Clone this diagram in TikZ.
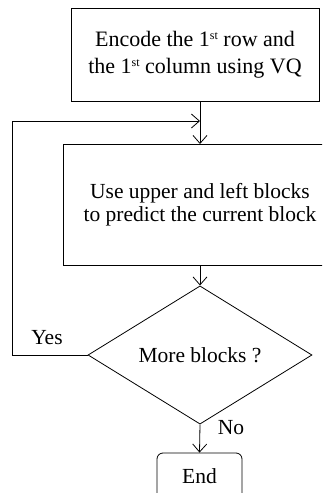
\documentclass[tikz,border=0pt]{standalone}
\usepackage{fontspec}
\setmainfont{Liberation Serif}
\usetikzlibrary{arrows.meta,shapes.geometric}
\newcommand{\supst}{\raisebox{0.35em}{\fontsize{12}{12}\selectfont st}}
\begin{document}
\begin{tikzpicture}[x=1pt,y=-1pt,
  line width=0.8pt,
  every node/.style={font=\fontsize{21.5}{24}\selectfont, inner sep=0pt},
  box/.style={draw, rectangle, align=center},
  arr/.style={-{Straight Barb[length=8pt,width=14pt,line width=0.8pt]}},
  lbl/.style={draw=none}
]
\useasboundingbox (0,0) rectangle (322,493);
\clip (0,0) rectangle (322,493);
\node[box, minimum width=248pt, minimum height=93pt,
  font=\fontsize{22}{27}\selectfont] (b1) at (195,55)
  {Encode the 1\supst{} row and\\the 1\supst{} column using VQ};
\node[box, minimum width=274pt, minimum height=121pt,
  font=\fontsize{21.5}{23}\selectfont] (b2) at (200,205)
  {Use upper and left blocks\\to predict the current block};
\node[draw, diamond, minimum width=224pt, minimum height=96pt] (d) at (200,355) {More blocks ?};
\node[draw, rectangle, rounded corners=6pt, minimum width=85pt, minimum height=46pt] (e) at (199.5,476) {End};
\node[lbl] (yes) at (47,338) {Yes};
\node[lbl] (no) at (231,428) {No};
\coordinate (b1s) at (200,101);
\coordinate (b2n) at (200,144);
\coordinate (j) at (200,121);
\coordinate (lu) at (12,121);
\coordinate (ll) at (d.west -| lu);
\draw[arr] (b1s) -- (b2n);
\draw[arr] (d.west) -- (ll) -- (lu) -- (j);
\draw[arr] (b2.south -| d.north) -- (d.north);
\draw[arr] (d.south) -- (e.north);
\end{tikzpicture}
\end{document}
